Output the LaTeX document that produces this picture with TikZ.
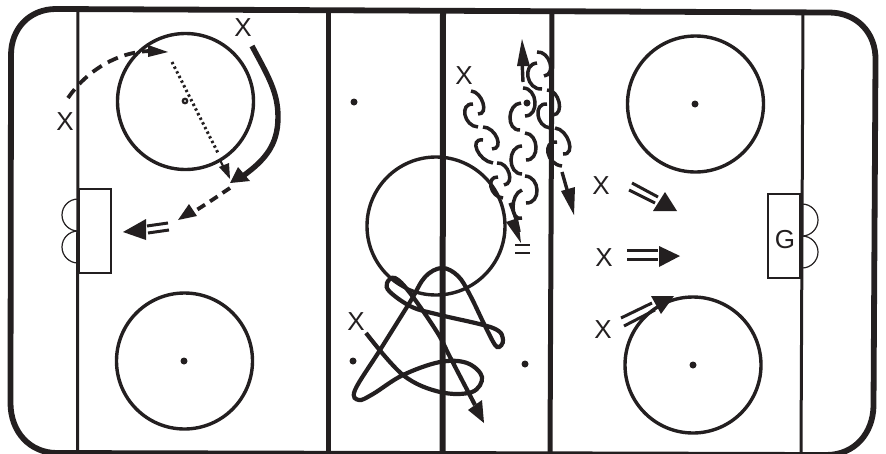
\documentclass[tikz,border=0pt]{standalone}
\usepackage{fontspec}
\setmainfont{Liberation Sans}
\definecolor{ink}{HTML}{231F20}
\tikzset{
 rinkline/.style={draw=ink,line width=3pt},
 redline/.style={draw=ink,line width=5pt},
 faceoff/.style={draw=ink,line width=3.4pt},
 thinbox/.style={draw=ink,line width=1.1pt},
 crease/.style={draw=ink,line width=1.2pt},
 sq/.style={draw=ink,line width=3.5pt},
 skate/.style={draw=ink,line width=3.4pt},
 dbl/.style={draw=ink,line width=3pt},
 head/.style={fill=ink,draw=none},
 dotmark/.style={circle,fill=ink,inner sep=0pt,minimum size=7pt},
 lbl/.style={font=\fontsize{26}{26}\selectfont,text=ink,inner sep=0pt},
}
\newcommand\sqarc[6]{%
 \pgfmathsetmacro\sqdx{4/3*(#3-(#1+#5)/2)}%
 \pgfmathsetmacro\sqdy{4/3*(#4-(#2+#6)/2)}%
 \draw[sq] (#1,#2) .. controls ({#1+\sqdx},{#2+\sqdy}) and ({#5+\sqdx},{#6+\sqdy}) .. (#5,#6);}
\begin{document}
\begin{tikzpicture}[x=1pt,y=-1pt]
\useasboundingbox (0,0) rectangle (886,453);
% boards
\draw[draw=ink,line width=5.8pt] (11,55) .. controls (11,28) and (30,9) .. (56,9) -- (829,12.5) .. controls (857,12.5) and (876,33) .. (875.5,60) -- (873.5,406) .. controls (873,433) and (855,455) .. (826,455) -- (57,453) .. controls (30,453) and (10.5,432) .. (10.5,403) -- cycle;
% vertical lines
\draw[rinkline] (78,11) -- (77.5,452);
\draw[redline] (328,11) -- (328,453);
\draw[draw=ink,line width=6pt] (443,10) -- (442.5,453);
\draw[redline] (552,12) -- (550,453);
\draw[rinkline] (803,12) -- (801,453);
% goals
\draw[thinbox] (79,189) rectangle (111,273);
\draw[thinbox] (768,194) rectangle (800,278);
\draw[crease] (78,199) arc[start angle=270,end angle=90,radius=16];
\draw[crease] (78,231) arc[start angle=270,end angle=90,radius=16];
\draw[crease] (802,204) arc[start angle=-90,end angle=90,radius=16];
\draw[crease] (802,236) arc[start angle=-90,end angle=90,radius=16];
% circles
\draw[faceoff] (185.5,101.5) circle[radius=68];
\draw[faceoff] (184.5,361) circle[radius=68];
\draw[faceoff] (695.5,104) circle[radius=68];
\draw[faceoff] (693,365) circle[radius=68];
\draw[faceoff] (436,226) circle[radius=69];
% dots
\node[dotmark] (d1) at (354,102) {};
\node[dotmark] (d2) at (527,103) {};
\node[dotmark] (d3) at (353,361) {};
\node[dotmark] (d4) at (525,364) {};
\node[dotmark] (d5) at (695,104) {};
\node[dotmark] (d6) at (693,365) {};
\node[dotmark] (d7) at (184,361) {};
\node[circle,draw=ink,line width=2.2pt,inner sep=0pt,minimum size=4.5pt] (d8) at (185,101) {};
% labels
\node[lbl] (x1) at (243,28) {X};
\node[lbl] (x2) at (65,122) {X};
\node[lbl] (x3) at (464,76) {X};
\node[lbl] (x4) at (356,322) {X};
\node[lbl] (x5) at (601,186) {X};
\node[lbl] (x6) at (604,258) {X};
\node[lbl] (x7) at (603,330) {X};
\node[lbl] (g) at (785,240) {G};
% left zone
\draw[skate,line width=3.8pt,dash pattern=on 11pt off 7pt] (68,98) .. controls (85,73) and (115,52) .. (150,51);
\fill[head] (168,52) -- (148,45) -- (148,57) -- cycle;
\draw[draw=ink,line width=3pt,dash pattern=on 2.4pt off 2.8pt] (172,62) -- (218,153);
\draw[draw=ink,line width=2.2pt] (220,160) -- (225,170);
\fill[head] (230,179) -- (219,167) -- (229,163) -- cycle;
\draw[draw=ink,line width=5.4pt] (252,46) .. controls (268,76) and (278,92) .. (278,117) .. controls (278,145) and (265,160) .. (243,176);
\fill[head] (230,183) -- (238,167) -- (250,181) -- cycle;
\draw[skate,line width=3.8pt,dash pattern=on 9pt off 6pt] (230,188) .. controls (215,198) and (205,205) .. (190,214);
\fill[head] (178,220) -- (189,204) -- (197,216) -- cycle;
\draw[dbl] (147,226) -- (168,223);
\draw[dbl] (148,233) -- (169,230);
\fill[head] (123,232) -- (146,219) -- (146,240) -- cycle;
% wavy paths
\sqarc{471}{91}{483}{103}{478}{114}
\sqarc{473}{104}{465}{115}{478}{127}
\sqarc{483}{127}{497}{138}{492}{149}
\sqarc{483}{140}{477}{150}{493}{163}
\sqarc{497}{163}{509}{173}{504}{185}
\sqarc{498}{177}{491}{187}{503}{198}
\draw[skate] (510,203) .. controls (515,215) and (518,225) .. (519,232);
\fill[head] (521,243) -- (506,222) -- (518,218) -- cycle;
\draw[draw=ink,line width=2pt] (515,245) -- (530,245);
\draw[draw=ink,line width=2pt] (515,253) -- (530,253);
\sqarc{526}{203}{537}{190}{525}{176}
\sqarc{522}{218}{513}{207}{522}{190}
\sqarc{526}{160}{536}{147}{525}{133}
\sqarc{522}{174}{511}{160}{522}{146}
\sqarc{525}{116}{535}{102}{523}{88}
\sqarc{520}{130}{510}{117}{521}{103}
\draw[skate] (523,82) -- (522,60);
\fill[head] (522,39) -- (517,66) -- (530,66) -- cycle;
\sqarc{537}{52}{550}{63}{544}{76}
\sqarc{542}{89}{528}{77}{537}{63}
\sqarc{547}{90}{559}{102}{553}{115}
\sqarc{550}{128}{538}{115}{547}{104}
\sqarc{555}{128}{569}{142}{563}{154}
\sqarc{562}{166}{548}{153}{557}{142}
\draw[skate] (562,172) -- (568,193);
\fill[head] (574,215) -- (561,191) -- (575,187) -- cycle;
% scribble
\draw[draw=ink,line width=4.2pt,smooth,tension=0.6] plot coordinates {(366,333) (403,375) (440,392) (472,392) (482,377) (467,363) (440,362) (403,375) (373,394) (359,400) (355,390) (380,350) (410,302) (425,277) (442,268) (458,276) (470,295) (487,330) (497,347) (503,340) (493,328) (440,315) (412,307) (390,292) (387,283) (395,278) (410,293) (437,332) (450,357) (475,405)};
\fill[head] (484,423) -- (468,410) -- (482,400) -- cycle;
% right arrows
\draw[dbl] (632,183) -- (658,197);
\draw[dbl] (629,190) -- (655,203);
\fill[head] (665,192) -- (677,211) -- (653,211) -- cycle;
\draw[dbl] (627,250) -- (658,250);
\draw[dbl] (627,259) -- (658,259);
\fill[head] (659,246) -- (680,256) -- (659,267) -- cycle;
\draw[dbl] (621,318) -- (652,303);
\draw[dbl] (624,326) -- (655,310);
\fill[head] (651,296) -- (674,296) -- (661,314) -- cycle;
\end{tikzpicture}
\end{document}
